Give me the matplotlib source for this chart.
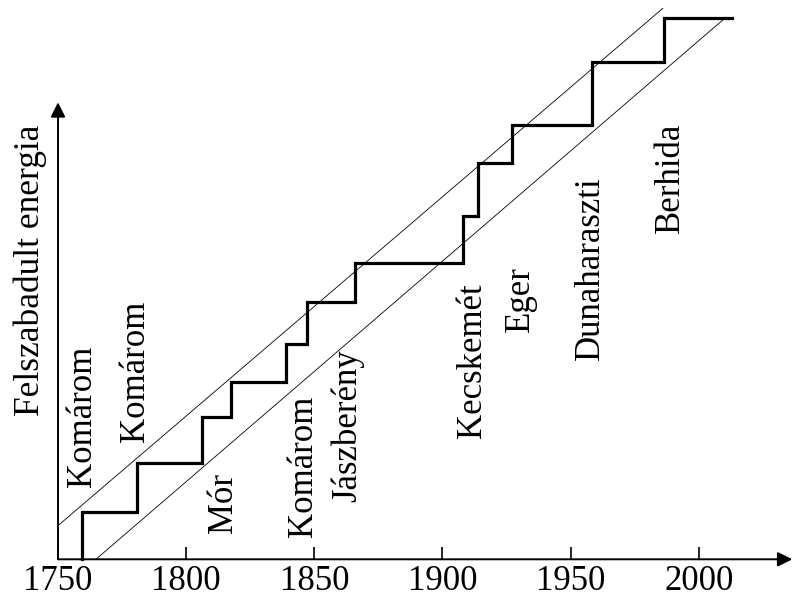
import matplotlib
matplotlib.use("Agg")
import matplotlib.pyplot as plt

plt.rcParams['font.family'] = ['Liberation Serif', 'DejaVu Serif']

# step curve of cumulative released energy (years, arbitrary energy units)
step_years = [1759.2, 1759.2, 1780.7, 1780.7, 1806.3, 1806.3, 1817.4, 1817.4,
              1838.8, 1838.8, 1847.3, 1847.3, 1865.9, 1865.9, 1908.1, 1908.1,
              1913.8, 1913.8, 1927.0, 1927.0, 1958.5, 1958.5, 1986.6, 1986.6, 2012.9]
step_energy = [0.0, 4.7, 4.7, 9.6, 9.6, 14.2, 14.2, 17.7, 17.7, 21.5, 21.5, 25.7,
               25.7, 29.6, 29.6, 34.3, 34.3, 39.6, 39.6, 43.4, 43.4, 49.7, 49.7, 54.1, 54.1]

# envelope lines
upper_years = [1749.7, 1986.0]
upper_energy = [3.3, 55.1]
lower_years = [1764.8, 2010.6]
lower_energy = [0.0, 54.2]

# earthquake labels (place, year position, bottom of text)
quake_names = ['Komárom', 'Komárom', 'Mór', 'Komárom', 'Jászberény',
               'Kecskemét', 'Eger', 'Dunaharaszti', 'Berhida']
quake_x = [1759.7, 1780.4, 1814.4, 1845.6, 1862.8, 1911.9, 1930.3, 1957.9, 1988.8]
quake_bottom = [7.2, 11.7, 2.6, 2.2, 5.7, 12.1, 22.7, 19.9, 32.6]

tick_years = [1750, 1800, 1850, 1900, 1950, 2000]
ylabel = 'Felszabadult energia'

fig = plt.figure(figsize=(7.95, 6.04), dpi=100)
ax = fig.add_axes([58 / 795, 44.7 / 604, 737 / 795, 559.3 / 604])
ax.set_xlim(1750, 1750 + 737 / 2.563)
ax.set_ylim(0, 55.93)

for s in ax.spines.values():
    s.set_visible(False)

ax.plot(step_years, step_energy, color='black', lw=2.3, solid_joinstyle='miter', clip_on=False)
ax.plot(upper_years, upper_energy, color='black', lw=0.6, clip_on=False)
ax.plot(lower_years, lower_energy, color='black', lw=0.6, clip_on=False)

for name, x, b in zip(quake_names, quake_x, quake_bottom):
    ax.text(x, b, name, rotation=90, ha='center', va='bottom', fontsize=25)

# axes with arrows
ax.annotate('', xy=(2036.5, 0), xytext=(1750, 0), annotation_clip=False,
            arrowprops=dict(arrowstyle='-|>', mutation_scale=22, lw=1.4,
                            color='black', shrinkA=0, shrinkB=0))
ax.annotate('', xy=(1750, 45.7), xytext=(1750, 0), annotation_clip=False,
            arrowprops=dict(arrowstyle='-|>', mutation_scale=22, lw=1.4,
                            color='black', shrinkA=0, shrinkB=0))

ax.set_xticks(tick_years)
ax.set_xticklabels([str(t) for t in tick_years], fontsize=25)
ax.tick_params(axis='x', direction='in', length=9, width=1.2, pad=4)
ax.set_yticks([])

fig.text(30 / 795, 1 - 270 / 604, ylabel, rotation=90, ha='center', va='center', fontsize=25.5)

fig.savefig('out.png', dpi=100)
